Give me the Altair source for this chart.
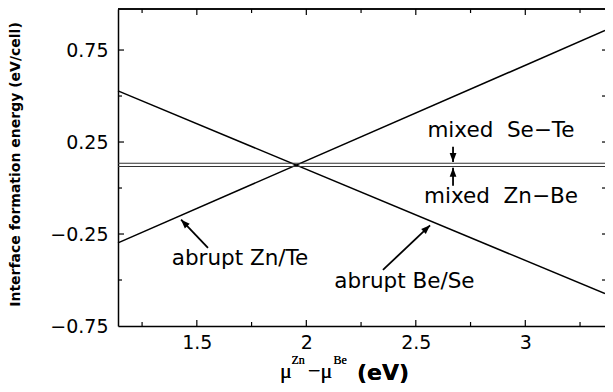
import math
import altair as alt
import pandas as pd

# ---------------- data ----------------
X_DOMAIN = [1.14, 3.364]
Y_DOMAIN = [-0.75, 0.973]

line_x = [1.14, 3.364]
abrupt_znte = [-0.298, 0.856]
abrupt_bese = [0.528, -0.574]
mixed_levels = [0.135, 0.117]          # mixed Se-Te, mixed Zn-Be

x_major = [1.5, 2.0, 2.5, 3.0]
x_minor = [1.25, 1.75, 2.25, 2.75, 3.25]
y_major = [0.75, 0.25, -0.25, -0.75]
y_minor = [0.5, 0.0, -0.5]

label_text = ["abrupt Zn/Te", "abrupt Be/Se", "mixed\u00a0 Se\u2212Te", "mixed\u00a0 Zn\u2212Be"]
label_x = [1.697, 2.448, 2.889, 2.889]
label_y = [-0.418, -0.543, 0.277, -0.081]

arrow_x0 = [1.551, 2.350, 2.670, 2.670]
arrow_y0 = [-0.326, -0.445, 0.224, 0.012]
arrow_x1 = [1.428, 2.565, 2.670, 2.670]
arrow_y1 = [-0.172, -0.203, 0.142, 0.110]

W, H = 487, 317

# ---------------- tables ----------------
lines = pd.DataFrame({
    "x": line_x * 2,
    "y": abrupt_znte + abrupt_bese,
    "s": ["Zn/Te"] * 2 + ["Be/Se"] * 2,
})
levels = pd.DataFrame({"y": mixed_levels})
labels = pd.DataFrame({"t": label_text, "x": label_x, "y": label_y})

def angle(i):
    dx = (arrow_x1[i] - arrow_x0[i]) * W / (X_DOMAIN[1] - X_DOMAIN[0])
    dy = -(arrow_y1[i] - arrow_y0[i]) * H / (Y_DOMAIN[1] - Y_DOMAIN[0])
    return math.degrees(math.atan2(dx, -dy)) % 360

arrows = pd.DataFrame({
    "x0": arrow_x0, "y0": arrow_y0, "x1": arrow_x1, "y1": arrow_y1,
    "ang": [angle(i) for i in range(len(arrow_x0))],
})

xs = alt.Scale(domain=X_DOMAIN, nice=False, zero=False)
ys = alt.Scale(domain=Y_DOMAIN, nice=False, zero=False)

x_axis = alt.Axis(values=x_major, format="~g", ticks=False, grid=False, domain=True,
                  domainColor="black", domainWidth=1.5, labelFont="DejaVu Sans",
                  labelFontSize=19, labelColor="black", labelPadding=7, title=None)
y_axis = alt.Axis(values=y_major, ticks=False, grid=False, domain=True,
                  labelExpr="replace(format(datum.value, '.2f'), '-', '\u2212')",
                  domainColor="black", domainWidth=1.5, labelFont="DejaVu Sans",
                  labelFontSize=19, labelColor="black", labelPadding=10,
                  title="Interface formation energy (eV/cell)",
                  titleFont="DejaVu Sans", titleFontSize=14, titleFontWeight="bold",
                  titleColor="black", titleAngle=270, titleAlign="center",
                  titleBaseline="middle", titleX=-103, titleY=155)

def X(field):
    return alt.X(field, scale=xs, axis=x_axis)

def Y(field):
    return alt.Y(field, scale=ys, axis=y_axis)

base_lines = alt.Chart(lines).mark_line(color="black", strokeWidth=1.5).encode(
    x=X("x:Q"), y=Y("y:Q"), detail="s:N",
)

mixed = alt.Chart(levels).mark_rule(color="#333333", strokeWidth=1.1).encode(y=Y("y:Q"))

def xticks(vals, length):
    d = pd.DataFrame({"t": vals})
    bottom = alt.Chart(d).mark_rule(color="black", strokeWidth=1.2).encode(
        x=X("t:Q"), y=alt.value(H), y2=alt.value(H - length))
    top = alt.Chart(d).mark_rule(color="black", strokeWidth=1.2).encode(
        x=X("t:Q"), y=alt.value(0), y2=alt.value(length))
    return [bottom, top]

def yticks(vals, length):
    d = pd.DataFrame({"t": vals})
    left = alt.Chart(d).mark_rule(color="black", strokeWidth=1.2).encode(
        y=Y("t:Q"), x=alt.value(0), x2=alt.value(length))
    right = alt.Chart(d).mark_rule(color="black", strokeWidth=1.2).encode(
        y=Y("t:Q"), x=alt.value(W - 3), x2=alt.value(W))
    return [left, right]

tick_layers = (xticks(x_major, 6) + xticks(x_minor, 4)
               + yticks([v for v in y_major if v > Y_DOMAIN[0]], 6) + yticks(y_minor, 4))

top_border = alt.Chart(levels).mark_rule(color="black", strokeWidth=1.5).encode(
    x=alt.value(0), x2=alt.value(W), y=alt.value(0))

text = alt.Chart(labels).mark_text(font="DejaVu Sans", fontSize=21.5, align="center",
                                   baseline="alphabetic", color="black").encode(
    x=X("x:Q"), y=Y("y:Q"), text="t:N")

shafts = alt.Chart(arrows).mark_rule(color="black", strokeWidth=1.8).encode(
    x=X("x0:Q"), y=Y("y0:Q"), x2="x1:Q", y2="y1:Q")

heads = alt.Chart(arrows).mark_point(shape="M0,0L-0.75,2L0.75,2Z", filled=True, size=81,
                                     color="black", opacity=1, strokeWidth=0).encode(
    x=X("x1:Q"), y=Y("y1:Q"), angle=alt.Angle("ang:Q", scale=None))

# composite x-axis title: mu^Zn - mu^Be (eV)
title_parts = [
    ("\u03bc", 1.880, 369, "Liberation Serif", 22, "normal"),
    ("Zn", 1.932, 355, "Liberation Serif", 12, "normal"),
    ("\u2212\u03bc", 2.008, 369, "Liberation Serif", 22, "normal"),
    ("Be", 2.124, 355, "Liberation Serif", 12, "normal"),
    ("(eV)", 2.231, 371, "DejaVu Sans", 22, "bold"),
]
title_layers = []
for txt, xv, py, font, size, weight in title_parts:
    title_layers.append(
        alt.Chart(levels).mark_text(text=txt, font=font, fontSize=size, fontWeight=weight,
                                    align="left", baseline="alphabetic", color="black").encode(
            x=alt.datum(xv, scale=xs, axis=x_axis), y=alt.value(py))
    )

chart = alt.layer(
    base_lines, mixed, *tick_layers, top_border, shafts, heads, text, *title_layers
).properties(
    width=W, height=H,
    autosize=alt.AutoSizeParams(type="none"),
    padding={"left": 110, "top": 1, "right": 0, "bottom": 58},
).configure_view(stroke=None)

chart.save("out.html", embed_options={"renderer": "svg", "actions": False})
